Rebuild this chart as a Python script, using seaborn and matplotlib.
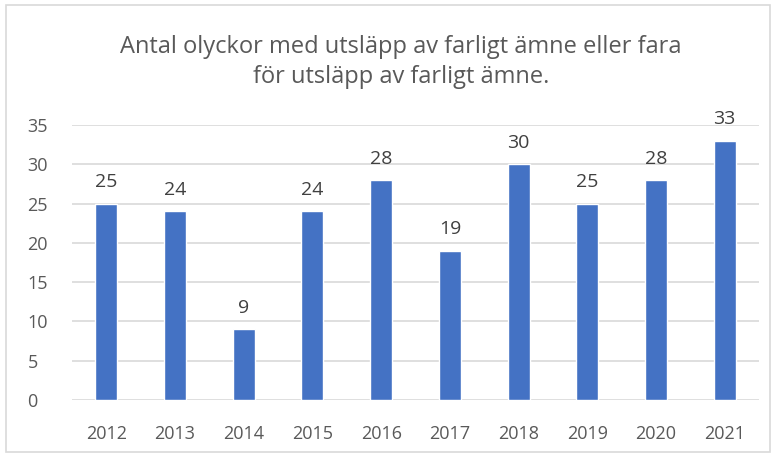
import matplotlib
matplotlib.use("Agg")
import matplotlib.pyplot as plt
import seaborn as sns
import pandas as pd
from matplotlib.patches import Rectangle

years = ["2012", "2013", "2014", "2015", "2016", "2017", "2018", "2019", "2020", "2021"]
counts = [25, 24, 9, 24, 28, 19, 30, 25, 28, 33]
yticks = [0, 5, 10, 15, 20, 25, 30, 35]
title = "Antal olyckor med utsläpp av farligt ämne eller fara\nför utsläpp av farligt ämne."

sns.set_theme(style="white")
plt.rcParams['font.family'] = ['Open Sans', 'DejaVu Sans']

df = pd.DataFrame({"year": years, "count": counts})

fig = plt.figure(figsize=(7.74, 4.57), dpi=100)
ax = fig.add_axes([72/774, 1-400/457, 687/774, 275/457])

sns.barplot(data=df, x="year", y="count", color="#4472C4", width=0.32,
            saturation=1, ax=ax, zorder=3)

for c in ax.containers:
    ax.bar_label(c, labels=[str(v) for v in counts], padding=9,
                 fontsize=14, color="#404040")

ax.set_ylim(0, 35)
ax.set_xlim(-0.5, 9.5)
ax.set_yticks(yticks)
ax.set_yticklabels([str(t) for t in yticks])
ax.yaxis.grid(True, color="#d9d9d9", linewidth=1.2, zorder=0)
ax.set_axisbelow(True)
for s in ax.spines.values():
    s.set_visible(False)
ax.tick_params(axis="both", length=0, labelsize=13, labelcolor="#595959")
ax.tick_params(axis="x", pad=18)
ax.tick_params(axis="y", pad=32)
for t in ax.get_yticklabels():
    t.set_horizontalalignment("left")
ax.set_xlabel("")
ax.set_ylabel("")

fig.text(401/774, 1-62/457, title, ha="center", va="center", fontsize=17,
         color="#595959", linespacing=1.3)

fig.patches.append(Rectangle((6/774, 5/457), 764/774, 447/457, transform=fig.transFigure,
                             fill=False, edgecolor="#d9d9d9", linewidth=1.2))

fig.savefig("out.png", dpi=100)
